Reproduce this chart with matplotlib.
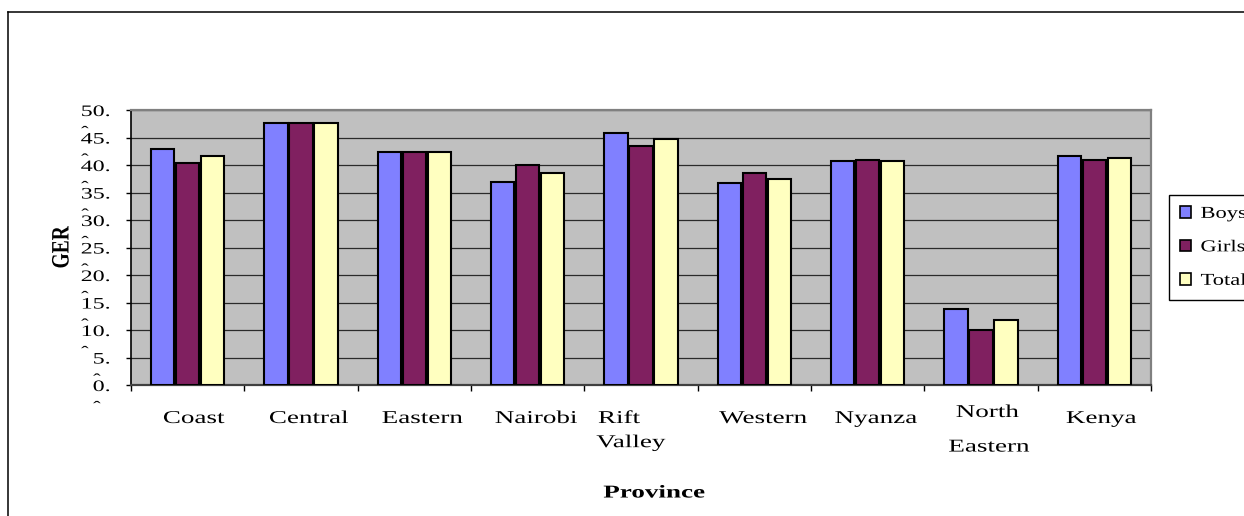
import matplotlib
matplotlib.use("Agg")
import matplotlib.pyplot as plt
import numpy as np
from matplotlib import patheffects
from matplotlib.transforms import Affine2D, ScaledTranslation
from matplotlib.patches import Patch
from matplotlib.lines import Line2D

# ---- data -------------------------------------------------------------
provinces = ["Coast", "Central", "Eastern", "Nairobi", "Rift\nValley",
             "Western", "Nyanza", "North\nEastern", "Kenya"]
boys = [43.0, 47.6, 42.4, 36.9, 45.9, 36.8, 40.8, 13.9, 41.7]
girls = [40.4, 47.6, 42.4, 40.0, 43.4, 38.5, 41.0, 10.0, 41.0]
total = [41.7, 47.6, 42.4, 38.5, 44.7, 37.5, 40.8, 11.9, 41.3]
series_names = ["Boys", "Girls", "Total"]
y_ticks = list(range(0, 51, 5))
y_tick_labels = [f"{v}." for v in y_ticks]

# ---- style ------------------------------------------------------------
plt.rcParams["font.family"] = ["Liberation Serif", "DejaVu Serif"]
colors = ["#8080FF", "#802060", "#FFFFC0"]
offsets = [-0.22, 0.0, 0.22]
bar_width = 0.205


class HStretch(patheffects.AbstractPathEffect):
    """Draw text glyphs stretched horizontally around an anchor fraction."""

    def __init__(self, sx, anchor=0.0):
        super().__init__()
        self.sx = sx
        self.anchor = anchor

    def draw_path(self, renderer, gc, tpath, affine, rgbFace=None):
        a = 0.0
        if len(tpath.vertices):
            ext = tpath.get_extents()
            if np.isfinite(ext.x0) and np.isfinite(ext.x1):
                a = ext.x0 + self.anchor * (ext.x1 - ext.x0)
        t = Affine2D().translate(-a, 0).scale(self.sx, 1.0).translate(a, 0)
        renderer.draw_path(gc, tpath, t + affine, rgbFace)


W, H = 1244, 516
fig = plt.figure(figsize=(W / 100, H / 100), dpi=100)
ax = fig.add_axes([131 / W, 1 - 385 / H, 1020 / W, 275 / H])
ax.set_facecolor("#C0C0C0")

x = np.arange(len(provinces))
for vals, off, col, name in zip([boys, girls, total], offsets, colors, series_names):
    ax.bar(x + off, vals, width=bar_width, color=col, edgecolor="black",
           linewidth=1.5, label=name, zorder=3)

ax.set_xlim(-0.5, len(provinces) - 0.5)
ax.set_ylim(0, 50)
ax.yaxis.grid(True, color="#2a2a2a", linewidth=0.9, zorder=0)
ax.set_axisbelow(True)

for side, col, lw in [("top", "#808080", 1.6), ("right", "#808080", 1.6),
                      ("left", "black", 1.2), ("bottom", "#404040", 1.6)]:
    ax.spines[side].set_color(col)
    ax.spines[side].set_linewidth(lw)

# category boundaries carry the tick marks, centres carry the names
ax.set_xticks(np.arange(-0.5, len(provinces), 1.0), [""] * (len(provinces) + 1))
ax.set_xticks(x, provinces, minor=True)
ax.tick_params(axis="x", which="major", direction="out", length=4.5,
               width=1.0, color="black")
ax.tick_params(axis="x", which="minor", length=0, pad=18, labelsize=13)

ax.set_yticks(y_ticks, y_tick_labels)
ax.tick_params(axis="y", direction="out", length=3.6, width=1.0,
               color="black", pad=11.5, labelsize=11.5)

for lab in ax.get_xticklabels(minor=True):
    lab.set_linespacing(1.55)
    lab.set_path_effects([HStretch(1.5, 0.2)])
    txt = lab.get_text()
    if txt.startswith("Rift"):
        lab.set_multialignment("left")
        lab.set_transform(lab.get_transform()
                          + ScaledTranslation(-17 / 100, 0, fig.dpi_scale_trans))
    if txt.startswith("North"):
        lab.set_linespacing(2.35)
        lab.set_transform(lab.get_transform()
                          + ScaledTranslation(0, 6 / 100, fig.dpi_scale_trans))

YT_SX = 1.5
for lab in ax.get_yticklabels():
    lab.set_path_effects([HStretch(YT_SX, 1.0)])

ax.set_xlabel("Province", fontsize=13, fontweight="bold")
ax.xaxis.set_label_coords((654 - 131) / 1020, (385 - 493) / 275)
ax.xaxis.label.set_verticalalignment("center")
ax.xaxis.label.set_path_effects([HStretch(1.5, 0.5)])

ax.set_ylabel("GER", fontsize=18, fontweight="bold")
ax.yaxis.set_label_coords((62 - 131) / 1020, 0.5)
ax.yaxis.label.set_verticalalignment("center")
ax.yaxis.label.set_path_effects([HStretch(0.78, 0.5)])

# legend box at the right edge of the chart area
handles = [Patch(facecolor=c, edgecolor="black", linewidth=1.2) for c in colors]
leg = fig.legend(handles, series_names, loc="upper left",
                 bbox_to_anchor=(1169 / W, 1 - 195 / H), frameon=True,
                 fancybox=False, edgecolor="black", framealpha=1,
                 fontsize=12, handlelength=0.65, handleheight=0.65,
                 handletextpad=0.6, labelspacing=1.05, borderpad=0.65,
                 borderaxespad=0)
leg.get_frame().set_linewidth(1.0)
for t in leg.get_texts():
    t.set_path_effects([HStretch(1.35, 0.0)])

# chart border (continues past the right and bottom edges)
fig.add_artist(Line2D([8 / W, 8 / W], [1 - 12 / H, 0], transform=fig.transFigure,
                      color="black", linewidth=1.1))
fig.add_artist(Line2D([8 / W, 1], [1 - 12 / H, 1 - 12 / H], transform=fig.transFigure,
                      color="black", linewidth=1.1))

# small circumflex marks under each value label
fig.canvas.draw()
renderer = fig.canvas.get_renderer()
inv = fig.transFigure.inverted()
for lab in ax.get_yticklabels():
    bb = lab.get_window_extent(renderer)
    left = bb.x1 - YT_SX * bb.width
    ymid = 0.5 * (bb.y0 + bb.y1)
    fx, fy = inv.transform((left + 1, ymid - 25))
    fig.text(fx, fy, "ˆ", fontsize=11.5, ha="left", va="baseline",
             path_effects=[HStretch(1.4, 0.0)])

fig.savefig("out.png", dpi=100)
